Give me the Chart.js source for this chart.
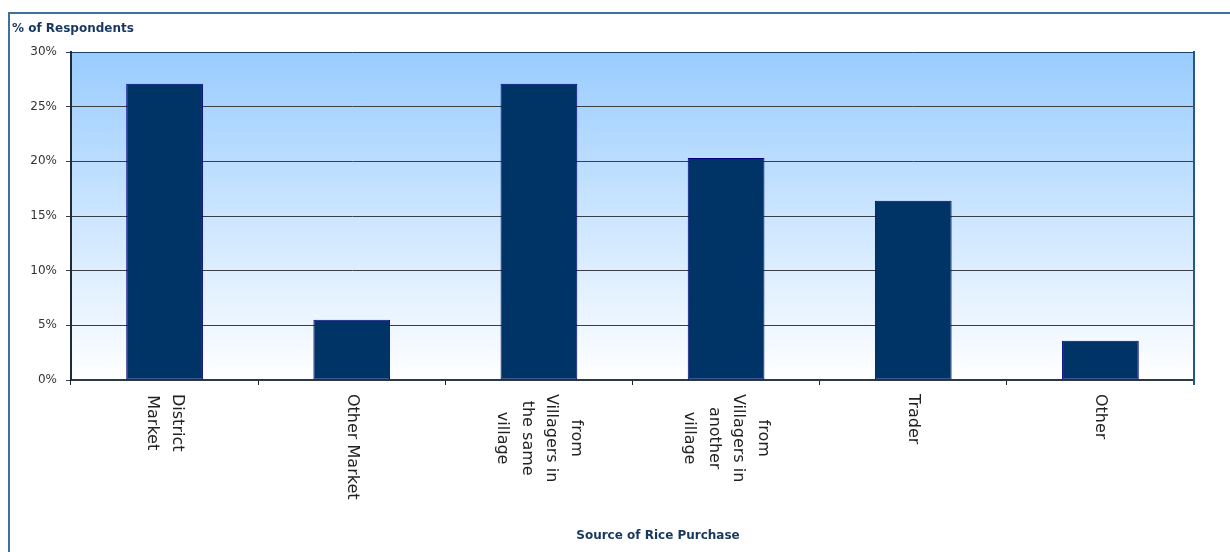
<!DOCTYPE html>
<html>
<head>
<meta charset="utf-8">
<script src="https://cdn.jsdelivr.net/npm/chart.js@4.4.1/dist/chart.umd.min.js"></script>
<style>
  html, body { margin: 0; padding: 0; background: #fff; }
  #wrap { width: 1230px; height: 552px; }
</style>
</head>
<body>
<div id="wrap"><canvas id="riceChart" width="1230" height="552"></canvas></div>
<script>
// --- data ---
const sources = [
    ['District', 'Market'],
    ['Other Market'],
    ['from', 'Villagers in', 'the same', 'village'],
    ['from', 'Villagers in', 'another', 'village'],
    ['Trader'],
    ['Other']
];
const respondentPct = [27.1, 5.5, 27.1, 20.3, 16.4, 3.6];
const yTicks = [0, 5, 10, 15, 20, 25, 30];

const yTitle = '% of Respondents';
const xTitle = 'Source of Rice Purchase';

const labelFont = '16px "DejaVu Sans"';
const titleFont = 'bold 12px "DejaVu Sans"';
const titleColor = '#17375e';

// background gradient, outer frame, rotated category labels and titles
const decor = {
    id: 'decor',
    beforeDraw(chart) {
        const { ctx, chartArea: a } = chart;
        ctx.save();
        ctx.strokeStyle = '#41709f';
        ctx.lineWidth = 2;
        ctx.strokeRect(9, 13, 1300, 600);

        const g = ctx.createLinearGradient(0, a.top, 0, a.bottom);
        g.addColorStop(0, '#99ccff');
        g.addColorStop(1, '#ffffff');
        ctx.fillStyle = g;
        ctx.fillRect(a.left, a.top, a.right - a.left, a.bottom - a.top);
        ctx.restore();
    },
    afterDraw(chart) {
        const { ctx, chartArea: a } = chart;
        const xScale = chart.scales.x;
        ctx.save();

        // right edge of the plot
        ctx.strokeStyle = '#27568a';
        ctx.lineWidth = 2;
        ctx.beginPath();
        ctx.moveTo(a.right, a.top - 1);
        ctx.lineTo(a.right, a.bottom + 5);
        ctx.stroke();

        // category labels, turned to read top-down
        ctx.font = labelFont;
        ctx.fillStyle = '#222';
        ctx.textAlign = 'center';
        ctx.textBaseline = 'middle';
        const lineH = 24.5;
        sources.forEach((lines, i) => {
            const cx = xScale.getPixelForValue(i);
            const maxW = Math.max(...lines.map(l => ctx.measureText(l).width));
            const cy = a.bottom + 14 + maxW / 2;
            ctx.save();
            ctx.translate(cx, cy);
            ctx.rotate(Math.PI / 2);
            lines.forEach((l, j) => {
                ctx.fillText(l, 0, (j - (lines.length - 1) / 2) * lineH);
            });
            ctx.restore();
        });

        // axis titles
        ctx.font = titleFont;
        ctx.fillStyle = titleColor;
        ctx.textAlign = 'left';
        ctx.fillText(yTitle, 12, 29);
        ctx.textAlign = 'center';
        ctx.fillText(xTitle, 658, 536);
        ctx.restore();
    }
};

const ctx = document.getElementById('riceChart').getContext('2d');
new Chart(ctx, {
    type: 'bar',
    data: {
        labels: sources.map(s => s.join(' ')),
        datasets: [{
            data: respondentPct,
            backgroundColor: '#003366',
            borderColor: '#000080',
            borderWidth: 1,
            borderSkipped: false,
            categoryPercentage: 1,
            barPercentage: 0.41
        }]
    },
    options: {
        responsive: false,
        devicePixelRatio: 1,
        animation: false,
        layout: { padding: { top: 52, right: 36, left: 0, bottom: 0 } },
        plugins: {
            legend: { display: false },
            tooltip: { enabled: false }
        },
        scales: {
            x: {
                afterFit(scale) { scale.height = 172; },
                ticks: { display: false },
                grid: {
                    offset: true,
                    drawOnChartArea: false,
                    drawTicks: true,
                    tickLength: 5,
                    color: '#222',
                    lineWidth: 1
                },
                border: { display: true, color: '#2b3a4a', width: 2 }
            },
            y: {
                min: 0,
                max: 30,
                afterFit(scale) { scale.width = 71; },
                afterBuildTicks(scale) { scale.ticks = yTicks.map(v => ({ value: v })); },
                ticks: {
                    padding: 9,
                    color: '#333',
                    font: { family: 'DejaVu Sans', size: 12 },
                    callback: v => v + '%'
                },
                grid: {
                    tickLength: 5,
                    lineWidth: 1,
                    color: c => c.tick && c.tick.value === 30 ? '#1c3f6e' : '#3a3f46'
                },
                border: { display: true, color: '#1f2a36', width: 2 }
            }
        }
    },
    plugins: [decor]
});
</script>
</body>
</html>
